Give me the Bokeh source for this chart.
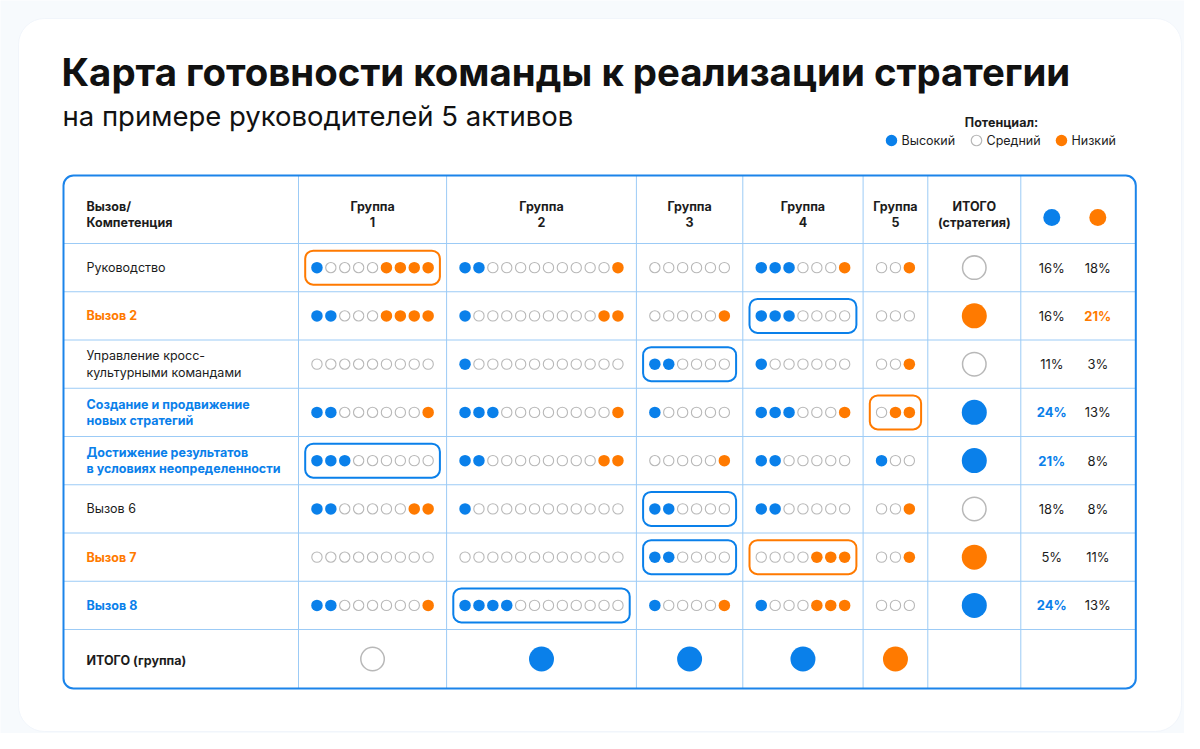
from bokeh.plotting import figure
from bokeh.models import Range1d
from bokeh.core.properties import value
from bokeh.embed import file_html
from bokeh.resources import INLINE

# ---------------- DATA ----------------
title = "Карта готовности команды к реализации стратегии"
subtitle = "на примере руководителей 5 активов"
legend_title = "Потенциал:"
legend_labels = ["Высокий", "Средний", "Низкий"]

row_labels = [
    "Руководство",
    "Вызов 2",
    "Управление кросс-\nкультурными командами",
    "Создание и продвижение\nновых стратегий",
    "Достижение результатов\nв условиях неопределенности",
    "Вызов 6",
    "Вызов 7",
    "Вызов 8",
]
row_label_level = ["none", "low", "none", "high", "high", "none", "low", "high"]

group_names = ["Группа\n1", "Группа\n2", "Группа\n3", "Группа\n4", "Группа\n5"]
group_sizes = [9, 12, 6, 7, 3]

# (high, mid, low) counts per challenge row
group1_counts = [(1, 4, 4), (2, 3, 4), (0, 9, 0), (2, 6, 1), (3, 6, 0), (2, 5, 2), (0, 9, 0), (2, 6, 1)]
group2_counts = [(2, 9, 1), (1, 9, 2), (1, 11, 0), (3, 8, 1), (2, 8, 2), (1, 11, 0), (0, 12, 0), (4, 8, 0)]
group3_counts = [(0, 6, 0), (0, 5, 1), (2, 4, 0), (1, 5, 0), (0, 5, 1), (2, 4, 0), (2, 4, 0), (1, 4, 1)]
group4_counts = [(3, 3, 1), (3, 4, 0), (1, 6, 0), (3, 3, 1), (2, 5, 0), (2, 5, 0), (0, 4, 3), (1, 3, 3)]
group5_counts = [(0, 2, 1), (0, 3, 0), (0, 2, 1), (0, 1, 2), (1, 2, 0), (0, 2, 1), (0, 2, 1), (0, 3, 0)]

strategy_total = ["mid", "low", "mid", "high", "high", "mid", "low", "high"]
group_total = ["mid", "high", "high", "high", "low"]

high_pct = [16, 16, 11, 24, 21, 18, 5, 24]
low_pct = [18, 21, 3, 13, 8, 8, 11, 13]
high_pct_marked = [False, False, False, True, True, False, False, True]
low_pct_marked = [False, True, False, False, False, False, False, False]

# highlighted cells: (row, group index, level)
highlight_rows = [0, 1, 2, 3, 4, 5, 6, 6, 7]
highlight_groups = [0, 3, 2, 4, 0, 2, 2, 3, 1]
highlight_levels = ["low", "high", "high", "low", "high", "high", "high", "low", "high"]

# ---------------- STYLE / LAYOUT ----------------
BLUE = "#0A80EA"
ORANGE = "#FF7A00"
GREY = "#B8B8B8"
TXT = "#1C1C1C"
GRID = "#9CCBF6"
BORDER = "#1B84EA"
FONT = "Inter"
COL = {"high": BLUE, "low": ORANGE, "mid": None, "none": TXT}
FS = 12.5

STEP = 13.9
DOT = 11.5
T_LEFT, T_TOP = 63, 175
label_w = 235
group_w = [n * STEP + 23 for n in group_sizes]
total_w = 93
pct_w = 115
header_h = 68
row_h = 48.25
foot_h = 59

col_edges = [T_LEFT, T_LEFT + label_w]
for w in group_w + [total_w, pct_w]:
    col_edges.append(col_edges[-1] + w)
row_edges = [T_TOP, T_TOP + header_h]
for _ in row_labels:
    row_edges.append(row_edges[-1] + row_h)
row_edges.append(row_edges[-1] + foot_h)
T_RIGHT, T_BOTTOM = col_edges[-1], row_edges[-1]

col_centers = [(a + b) / 2 for a, b in zip(col_edges[:-1], col_edges[1:])]
row_centers = [(a + b) / 2 for a, b in zip(row_edges[:-1], row_edges[1:])]

p = figure(width=1184, height=733, x_range=Range1d(0, 1184), y_range=Range1d(733, 0),
           output_backend="svg", toolbar_location=None, min_border=0)
p.axis.visible = False
p.grid.visible = False
p.outline_line_color = None
p.background_fill_color = "#F7FAFD"
p.border_fill_color = "#F7FAFD"

# card
p.quad(left=[18], right=[1181], top=[18], bottom=[731], fill_color="white",
       line_color="#F1F5FB", line_width=1, border_radius=26)


def txt(x, y, s, size, color=TXT, bold=False, align="left", baseline="middle", lh=1.25):
    p.text(x=x, y=y, text=s, text_font=value(FONT), text_font_size=f"{size}px",
           text_color=color, text_font_style="bold" if bold else "normal",
           text_align=align, text_baseline=baseline, text_line_height=lh)


# titles
txt([61], [71], [title], 38.4, color="#111111", bold=True)
txt([62], [115], [subtitle], 27.5, color="#111111")

# legend
txt([1001], [122], [legend_title], FS, bold=True, align="center")
leg_x = [891, 976, 1061]
p.scatter(x=[leg_x[0]], y=[140], size=DOT, fill_color=BLUE, line_color=None)
p.scatter(x=[leg_x[1]], y=[140], size=DOT - 1, fill_color="white", line_color=GREY, line_width=1.2)
p.scatter(x=[leg_x[2]], y=[140], size=DOT, fill_color=ORANGE, line_color=None)
txt([x + 10 for x in leg_x], [140] * 3, legend_labels, FS)

# grid lines
p.segment(x0=col_edges[1:-1], x1=col_edges[1:-1], y0=[T_TOP] * (len(col_edges) - 2),
          y1=[T_BOTTOM] * (len(col_edges) - 2), line_color=GRID, line_width=1)
p.segment(x0=[T_LEFT] * (len(row_edges) - 2), x1=[T_RIGHT] * (len(row_edges) - 2),
          y0=row_edges[1:-1], y1=row_edges[1:-1], line_color=GRID, line_width=1)
p.quad(left=[T_LEFT], right=[T_RIGHT], top=[T_TOP], bottom=[T_BOTTOM], fill_color=None,
       line_color=BORDER, line_width=2, border_radius=10)

# header
hy = (row_edges[0] + row_edges[1]) / 2 + 5
txt([T_LEFT + 23], [hy], ["Вызов/\nКомпетенция"], FS, bold=True, lh=1.1)
txt(col_centers[1:6], [hy] * 5, group_names, FS, bold=True, align="center", lh=1.1)
txt([col_centers[6]], [hy], ["ИТОГО\n(стратегия)"], FS, bold=True, align="center", lh=1.1)
pct_x = [col_edges[7] + 31, col_edges[7] + 77]
p.scatter(x=[pct_x[0]], y=[hy + 3], size=17, fill_color=BLUE, line_color=None)
p.scatter(x=[pct_x[1]], y=[hy + 3], size=17, fill_color=ORANGE, line_color=None)

# row labels
for i, lab in enumerate(row_labels):
    lvl = row_label_level[i]
    txt([T_LEFT + 23], [row_centers[i + 1]], [lab], FS, color=COL[lvl], bold=(lvl != "none"), lh=1.1)
txt([T_LEFT + 23], [row_centers[-1] + 1], ["ИТОГО (группа)"], FS, bold=True)

# highlight boxes
for r, g, lvl in zip(highlight_rows, highlight_groups, highlight_levels):
    n = group_sizes[g]
    half = ((n - 1) * STEP + DOT) / 2 + 6
    cx, cy = col_centers[g + 1], row_centers[r + 1]
    p.quad(left=[cx - half], right=[cx + half], top=[cy - 17], bottom=[cy + 17],
           fill_color=None, line_color=COL[lvl], line_width=2, border_radius=8)

# dots
all_counts = [group1_counts, group2_counts, group3_counts, group4_counts, group5_counts]
fx, fy, fc, hx, hy2 = [], [], [], [], []
for g, counts in enumerate(all_counts):
    n = group_sizes[g]
    cx = col_centers[g + 1]
    for r, (h, m, l) in enumerate(counts):
        cy = row_centers[r + 1]
        levels = ["high"] * h + ["mid"] * m + ["low"] * l
        for k, lvl in enumerate(levels):
            x = cx + (k - (n - 1) / 2) * STEP
            if lvl == "mid":
                hx.append(x); hy2.append(cy)
            else:
                fx.append(x); fy.append(cy); fc.append(COL[lvl])
p.scatter(x=fx, y=fy, size=DOT, fill_color=fc, line_color=None)
p.scatter(x=hx, y=hy2, size=DOT - 1.2, fill_color="white", line_color=GREY, line_width=1.1)


# totals
def big(xs, ys, lvls, size=25):
    for x, y, lvl in zip(xs, ys, lvls):
        if lvl == "mid":
            p.scatter(x=[x], y=[y], size=size - 1.5, fill_color="white", line_color=GREY, line_width=1.5)
        else:
            p.scatter(x=[x], y=[y], size=size, fill_color=COL[lvl], line_color=None)


big([col_centers[6]] * len(strategy_total), row_centers[1:-1], strategy_total)
big(col_centers[1:6], [row_centers[-1]] * 5, group_total)

# percentages
for i in range(len(high_pct)):
    y = row_centers[i + 1]
    txt([pct_x[0]], [y], [f"{high_pct[i]}%"], 13, color=BLUE if high_pct_marked[i] else TXT,
        bold=high_pct_marked[i], align="center")
    txt([pct_x[1]], [y], [f"{low_pct[i]}%"], 13, color=ORANGE if low_pct_marked[i] else TXT,
        bold=low_pct_marked[i], align="center")

open("out.html", "w").write(file_html(p, INLINE))
